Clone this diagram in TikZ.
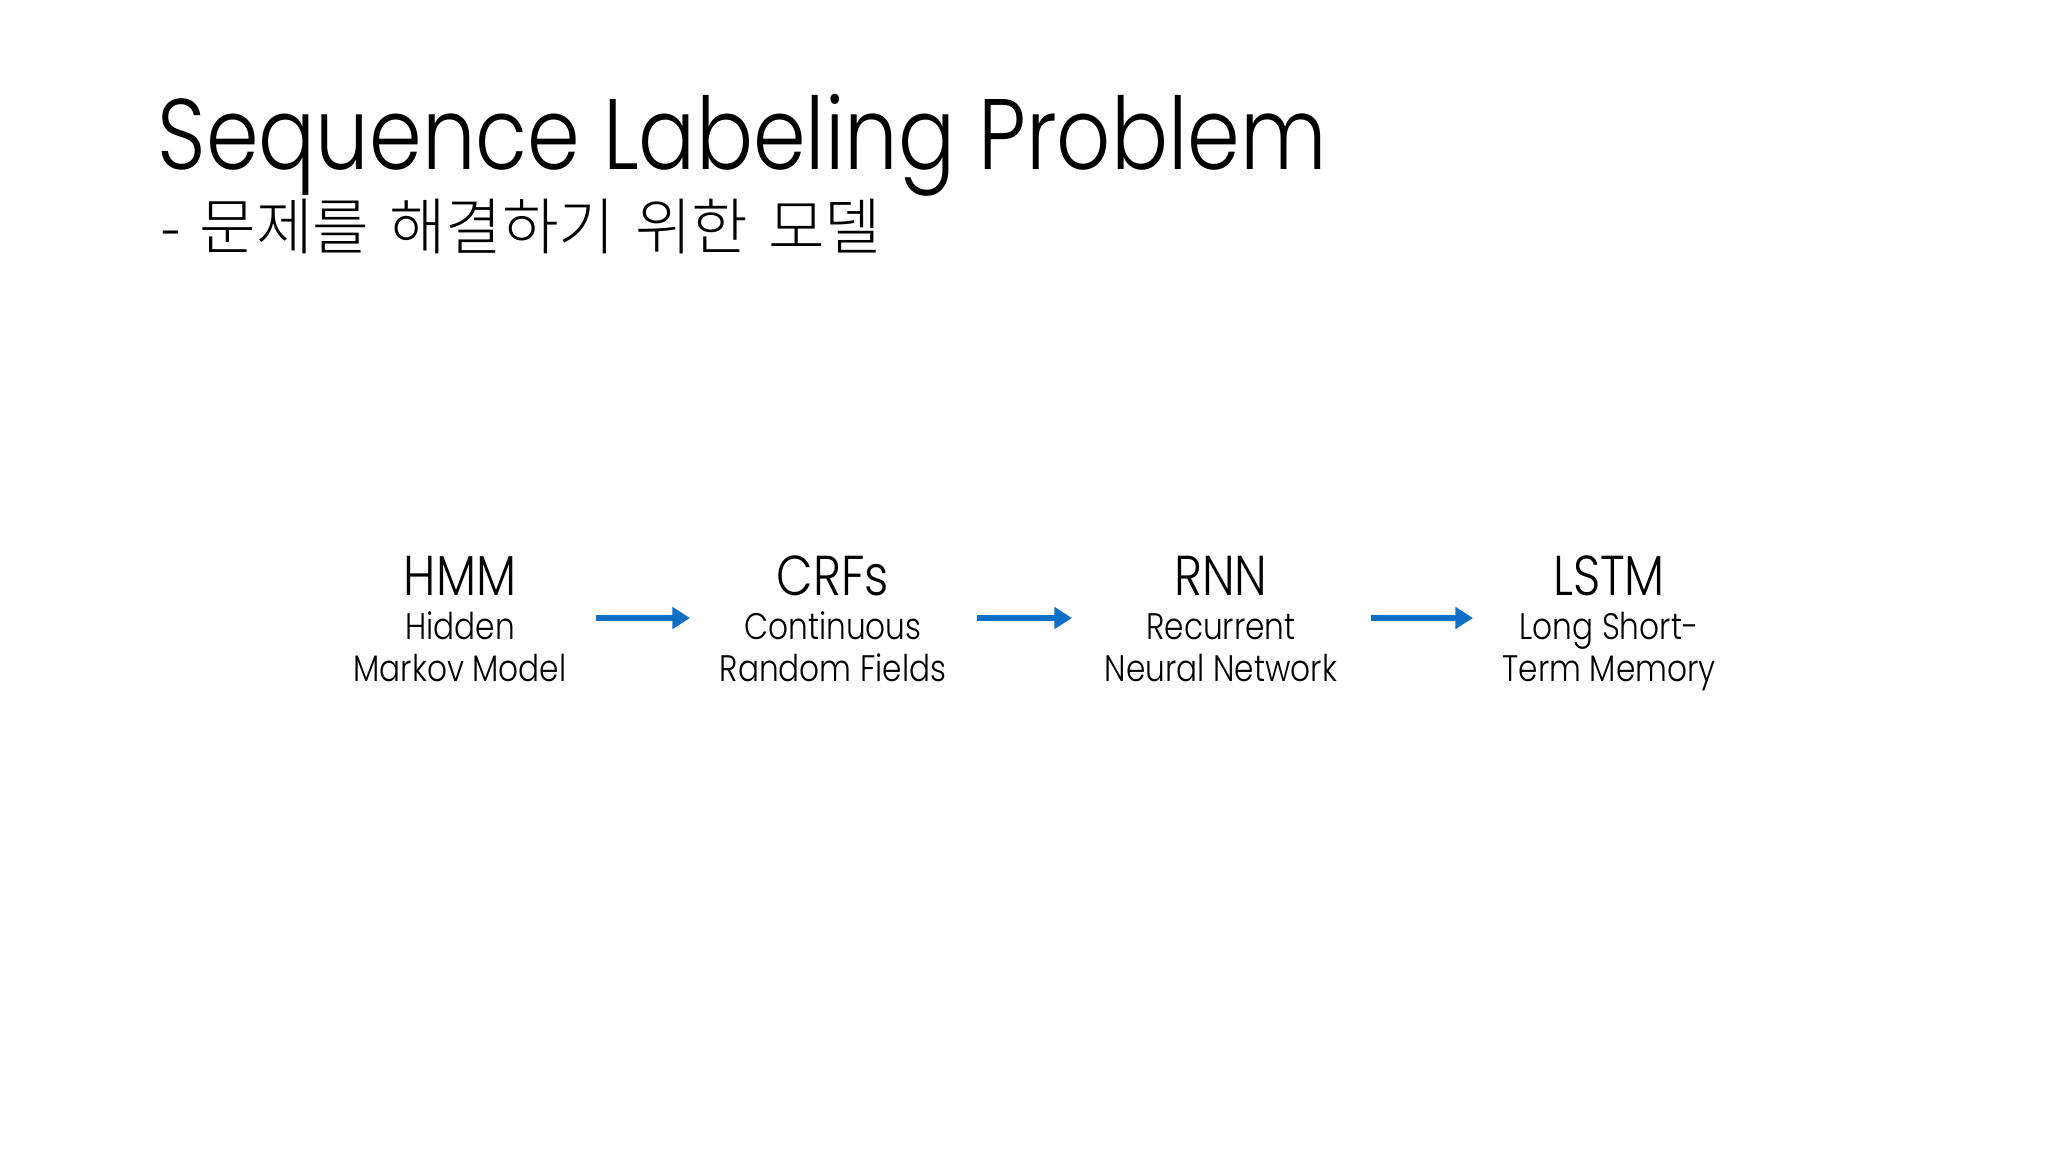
\documentclass[tikz,border=0pt]{standalone}
\usepackage{fontspec}
\setmainfont{Poppins Light}[FakeStretch=0.845]
\newfontfamily\kr{Noto Sans CJK KR Light}
\usetikzlibrary{calc,arrows.meta}
\definecolor{arrblue}{HTML}{0F6FC6}
\tikzset{
  ttl/.style={anchor=base, inner sep=0pt, font=\fontsize{16}{18}\selectfont},
  desc/.style={anchor=base, inner sep=0pt, align=center, font=\fontsize{10.5}{11.7}\selectfont},
  arr/.style={draw=arrblue, line width=1.7pt, -{Triangle[length=5pt,width=6pt]}}
}
\begin{document}
\begin{tikzpicture}
\useasboundingbox (0,0) rectangle (20.48,-11.52);
\node[anchor=base west, inner sep=0pt, font=\fontsize{28.5}{30}\selectfont] (title) at (1.57,-1.70) {Sequence Labeling Problem};
\node[anchor=base west, inner sep=0pt, text height=13pt, font=\kr\fontsize{17.5}{19}\selectfont] (sub) at (1.60,-2.50) {-\hspace{0.3em}문제를\hspace{0.1em} 해결하기\hspace{0.1em} 위한\hspace{0.1em} 모델};
\node[ttl] (hmm) at (4.60,-5.96) {HMM};
\node[ttl] (crf) at (8.33,-5.96) {CRFs};
\node[ttl] (rnn) at (12.21,-5.96) {RNN};
\node[ttl] (lstm) at (16.09,-5.96) {LSTM};
\node[desc] (hmmd) at (4.60,-6.81) {Hidden\\Markov Model};
\node[desc] (crfd) at (8.33,-6.81) {Continuous\\Random Fields};
\node[desc] (rnnd) at (12.21,-6.81) {Recurrent\\Neural Network};
\node[desc] (lstmd) at (16.09,-6.81) {Long Short-\\Term Memory};
\draw[arr] ($(hmm.base)+(1.36,-0.22)$) -- ($(crf.base)+(-1.43,-0.22)$);
\draw[arr] ($(crf.base)+(1.44,-0.22)$) -- ($(rnn.base)+(-1.49,-0.22)$);
\draw[arr] ($(rnn.base)+(1.50,-0.22)$) -- ($(lstm.base)+(-1.36,-0.22)$);
\end{tikzpicture}
\end{document}
